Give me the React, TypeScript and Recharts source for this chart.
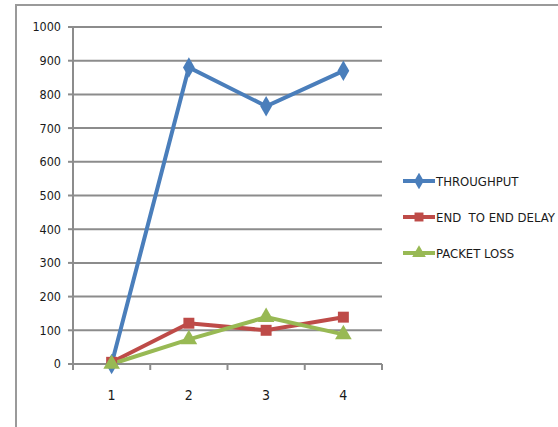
import React from 'react';
import {
  LineChart,
  Line,
  XAxis,
  YAxis,
  CartesianGrid,
  Symbols,
} from 'recharts';

const categories = [1, 2, 3, 4];
const throughput = [0, 880, 765, 870];
const endToEndDelay = [5, 121, 100, 139];
const packetLoss = [0, 73, 139, 88];
const yTicks = [0, 100, 200, 300, 400, 500, 600, 700, 800, 900, 1000];
const bandEdges = [0.5, 1.5, 2.5, 3.5, 4.5];

const data = categories.map((c, i) => ({
  x: c,
  throughput: throughput[i],
  delay: endToEndDelay[i],
  loss: packetLoss[i],
}));

const FONT = '"DejaVu Sans Condensed", "Liberation Sans Narrow", "DejaVu Sans", sans-serif';
const GRID = '#8c8c8c';
const TEXT = '#1a1a1a';

const series = [
  { key: 'throughput', name: 'THROUGHPUT', color: '#4a7ebb', shape: 'diamond' as const },
  { key: 'delay', name: 'END  TO END DELAY', color: '#be4b48', shape: 'square' as const },
  { key: 'loss', name: 'PACKET LOSS', color: '#98b954', shape: 'triangle' as const },
];

function makeDot(shape: 'diamond' | 'square' | 'triangle', color: string) {
  return (p: any) => (
    <Symbols key={`${shape}-${p.index}`} cx={p.cx} cy={p.cy} type={shape} size={120} fill={color} />
  );
}

function LegendBox() {
  return (
    <div
      style={{
        position: 'absolute',
        left: 403,
        top: 163,
        fontFamily: FONT,
        fontStretch: 'condensed',
        fontSize: 13,
        color: TEXT,
      }}
    >
      {series.map((s) => (
        <div key={s.key} style={{ display: 'flex', alignItems: 'center', height: 36, whiteSpace: 'pre' }}>
          <svg width={32} height={16} style={{ marginRight: 1 }}>
            <line x1={0} y1={8} x2={32} y2={8} stroke={s.color} strokeWidth={4} />
            <Symbols cx={16} cy={8} type={s.shape} size={80} fill={s.color} />
          </svg>
          <span>{s.name}</span>
        </div>
      ))}
    </div>
  );
}

const yTickStyle = { fontSize: 12.5, fill: TEXT, fontFamily: FONT, fontStretch: 'condensed' };
const xTickStyle = { fontSize: 14, fill: TEXT, fontFamily: FONT, fontStretch: 'condensed' };

export default function App() {
  return (
    <div style={{ position: 'fixed', left: 0, top: 0, width: 558, height: 427, background: '#fff' }}>
      <div
        style={{
          position: 'absolute',
          left: 15,
          top: 4,
          right: 0,
          bottom: 0,
          borderTop: '2px solid #9a9a9a',
          borderLeft: '2px solid #9a9a9a',
        }}
      />
      <LineChart
        width={558}
        height={427}
        data={data}
        margin={{ top: 27, right: 176, left: 0, bottom: 25 }}
        style={{ position: 'absolute', left: 0, top: 0 }}
      >
        <CartesianGrid horizontal vertical={false} stroke={GRID} strokeWidth={2} />
        <XAxis
          dataKey="x"
          type="number"
          domain={[0.5, 4.5]}
          ticks={bandEdges}
          tickFormatter={() => ''}
          height={8}
          tickSize={6}
          stroke={GRID}
          strokeWidth={2}
        />
        <XAxis
          xAxisId="lbl"
          dataKey="x"
          type="number"
          domain={[0.5, 4.5]}
          ticks={categories}
          axisLine={false}
          tickLine={false}
          tickSize={0}
          tickMargin={18}
          height={30}
          tick={xTickStyle}
        />
        <YAxis
          domain={[0, 1000]}
          ticks={yTicks}
          width={73}
          tickSize={5}
          tickMargin={7}
          stroke={GRID}
          strokeWidth={2}
          tick={yTickStyle}
        />
        {series.map((s) => (
          <Line
            key={s.key}
            dataKey={s.key}
            name={s.name}
            stroke={s.color}
            strokeWidth={4}
            dot={makeDot(s.shape, s.color)}
            activeDot={false}
            isAnimationActive={false}
          />
        ))}
      </LineChart>
      <LegendBox />
    </div>
  );
}
